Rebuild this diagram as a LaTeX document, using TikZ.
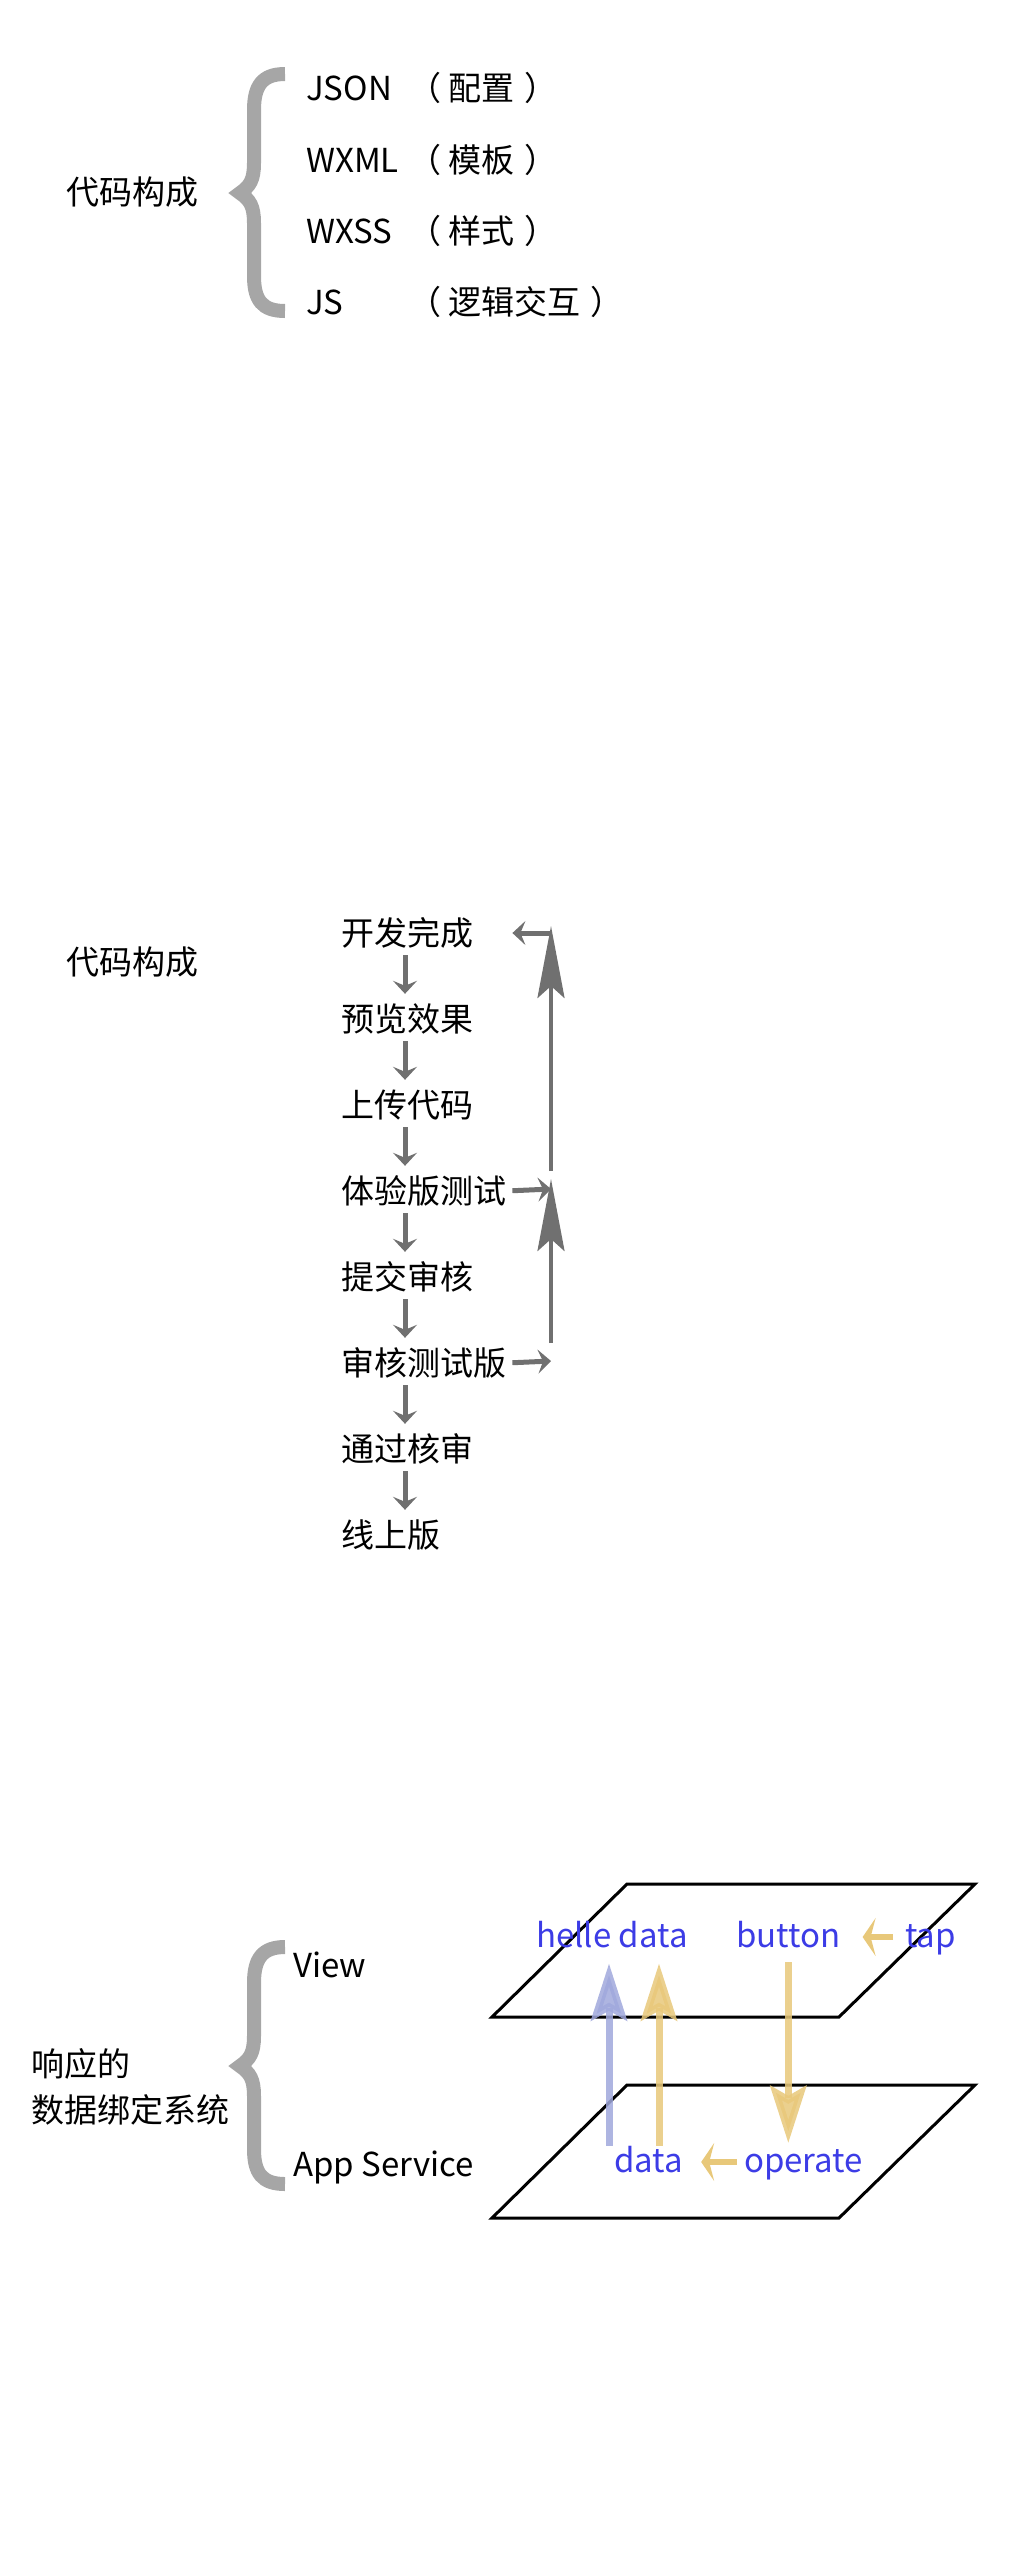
\documentclass[tikz,border=0pt]{standalone}
\usepackage{fontspec}
\setmainfont{Noto Sans CJK SC}
\usetikzlibrary{arrows.meta, positioning, calc}
\definecolor{flowgray}{RGB}{112,112,112}
\definecolor{bracegray}{RGB}{166,166,166}
\definecolor{labelblue}{RGB}{60,60,230}
\definecolor{bindblue}{RGB}{160,168,220}
\definecolor{bindgold}{RGB}{232,200,122}

\begin{document}
\begin{tikzpicture}[x=1pt, y=-1pt,
    txt/.style={font=\fontsize{33pt}{46pt}\selectfont, inner sep=0pt},
    flow/.style={txt, anchor=west, minimum height=44pt},
    lbl/.style={txt, text=labelblue, anchor=base west},
    bracket/.style={draw=bracegray, line width=14pt},
    plane/.style={draw=black, line width=3pt},
    flowarrow/.style={draw=flowgray, line width=5pt, -{Stealth[length=13pt, width=24pt, inset=5pt]}},
    backarrow/.style={draw=flowgray, line width=4pt, -{Stealth[length=72pt, width=27pt, inset=12pt]}},
    bindarrow/.style={line width=7pt, opacity=0.85, -{Stealth[length=57pt, width=36pt, inset=10pt]}},
    tiparrow/.style={draw=bindgold, line width=6pt, -{Stealth[length=13pt, width=38pt, inset=5pt]}}]

    \useasboundingbox (0,0) rectangle (1024,2560);

    % Braces
    \foreach \t in {0,1873}
        \draw[bracket, shift={(0,\t)}] (285,74) .. controls (262,74) and (254,86) .. (254,110)
            -- (254,163) .. controls (254,180) and (250,186) .. (240,193)
            .. controls (250,200) and (254,206) .. (254,223)
            -- (254,276) .. controls (254,300) and (262,311) .. (285,311);

    % Code parts
    \node[txt, anchor=west] (code1) at (66,192) {代码构成};
    \node[txt, anchor=west] (json) at (306,88) {JSON};
    \node[txt, anchor=west] (wxml) at (306,160) {WXML};
    \node[txt, anchor=west] (wxss) at (306,231) {WXSS};
    \node[txt, anchor=west] (js) at (306,302) {JS};
    \node[txt, anchor=west] (jsonnote) at (408,88) {（\hspace{7pt}配置\hspace{10pt}）};
    \node[txt, anchor=west] (wxmlnote) at (408,160) {（\hspace{7pt}模板\hspace{10pt}）};
    \node[txt, anchor=west] (wxssnote) at (408,231) {（\hspace{7pt}样式\hspace{10pt}）};
    \node[txt, anchor=west] (jsnote) at (408,302) {（\hspace{7pt}逻辑交互\hspace{10pt}）};

    % Release steps
    \node[txt, anchor=west] (code2) at (66,962) {代码构成};
    \node[flow] (s1) at (341,933) {开发完成};
    \node[flow] (s2) at (341,1019) {预览效果};
    \node[flow] (s3) at (341,1105) {上传代码};
    \node[flow] (s4) at (341,1191) {体验版测试};
    \node[flow] (s5) at (341,1277) {提交审核};
    \node[flow] (s6) at (341,1363) {审核测试版};
    \node[flow] (s7) at (341,1449) {通过核审};
    \node[flow] (s8) at (341,1535) {线上版};

    \foreach \a/\b in {s1/s2, s2/s3, s3/s4, s4/s5, s5/s6, s6/s7, s7/s8}
        \draw[flowarrow, shorten >=3pt] ([xshift=64pt]\a.south west) -- ([xshift=64pt]\b.north west);

    \coordinate (r1) at (551,933);
    \coordinate (r4) at (551,1189);
    \coordinate (r6) at (551,1361);
    \draw[flowarrow, shorten <=6pt] (s4.east) -- (r4);
    \draw[flowarrow, shorten <=6pt] (s6.east) -- (r6);
    \draw[backarrow, shorten <=18pt, shorten >=-10pt] (r6) -- (r4);
    \draw[backarrow, shorten <=18pt, shorten >=-7pt] (r4) -- (r1);
    \draw[flowarrow, shorten >=39pt] (r1) -- (s1.east);

    % Data binding
    \node[txt, anchor=west, align=left] (resp) at (31,2087) {响应的\\数据绑定系统};
    \node[txt, anchor=west] (view) at (293,1965) {View};
    \node[txt, anchor=west] (service) at (293,2167) {App Service};

    \foreach \t in {0,201}
        \draw[plane, shift={(0,\t)}] (627,1884) -- (975,1884) -- (839,2017) -- (492,2017) -- cycle;

    \node[lbl] (hello) at (536,1947) {helle data};
    \node[lbl] (button) at (736,1947) {button};
    \node[lbl] (tap) at (905,1947) {tap};
    \node[lbl] (data) at (614,2172) {data};
    \node[lbl] (operate) at (744,2172) {operate};

    \coordinate (blue0) at ([xshift=-5pt]data.north west);
    \coordinate (gold0) at ([xshift=45pt]data.north west);
    \draw[bindarrow, draw=bindblue, fill=bindblue, shorten >=16pt] (blue0) -- (blue0 |- hello.south);
    \draw[bindarrow, draw=bindgold, fill=bindgold, shorten >=16pt] (gold0) -- (gold0 |- hello.south);
    \draw[bindarrow, draw=bindgold, fill=bindgold, shorten <=15pt, shorten >=6pt] (button.base) -- (button.base |- operate.north);
    \draw[tiparrow, shorten <=12pt, shorten >=22pt] ([yshift=10pt]tap.base west) -- ([yshift=10pt]button.base east);
    \draw[tiparrow, shorten <=7pt, shorten >=18pt] ([yshift=10pt]operate.base west) -- ([yshift=10pt]data.base east);
\end{tikzpicture}
\end{document}
